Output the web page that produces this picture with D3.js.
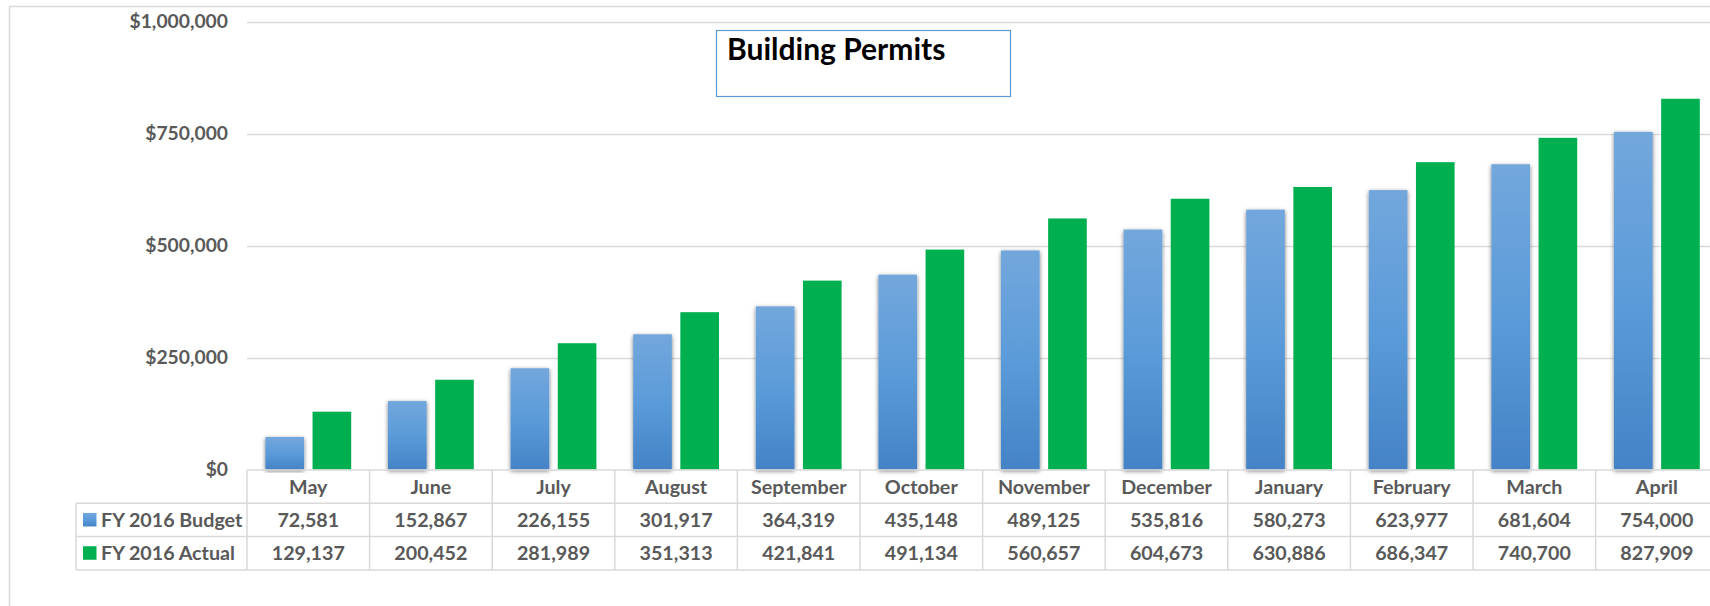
<!DOCTYPE html>
<html>
<head>
<meta charset="utf-8">
<script src="https://cdn.jsdelivr.net/npm/d3@7"></script>
<style>
  html, body { margin: 0; padding: 0; background: #fff; }
  svg { display: block; font-family: Lato, "Open Sans", sans-serif; }
</style>
</head>
<body>
<div id="chart"></div>
<script>
// Data
const months = ["May", "June", "July", "August", "September", "October",
    "November", "December", "January", "February", "March", "April"];
const seriesNames = ["FY 2016 Budget", "FY 2016 Actual"];
const budget = [72581, 152867, 226155, 301917, 364319, 435148,
    489125, 535816, 580273, 623977, 681604, 754000];
const actual = [129137, 200452, 281989, 351313, 421841, 491134,
    560657, 604673, 630886, 686347, 740700, 827909];
const yTicks = [0, 250000, 500000, 750000, 1000000];
const chartTitle = "Building Permits";

const W = 1710, H = 606;
const textColor = "#595959";
const gridColor = "#d9d9d9";
const green = "#00b050";

const svg = d3.select("#chart").append("svg")
    .attr("width", W)
    .attr("height", H);

const defs = svg.append("defs");

// Blue bar gradient (lighter top, darker bottom)
const grad = defs.append("linearGradient")
    .attr("id", "blueGrad")
    .attr("x1", 0).attr("y1", 0).attr("x2", 0).attr("y2", 1);
grad.append("stop").attr("offset", "0%").attr("stop-color", "#73a7dc");
grad.append("stop").attr("offset", "50%").attr("stop-color", "#5b9bd9");
grad.append("stop").attr("offset", "100%").attr("stop-color", "#4483c6");

// soft shadow on the blue bars
defs.append("filter")
    .attr("id", "barShadow")
    .attr("x", "-30%").attr("y", "-10%")
    .attr("width", "160%").attr("height", "120%")
    .append("feDropShadow")
    .attr("dx", 0).attr("dy", 1.5)
    .attr("stdDeviation", 2.2)
    .attr("flood-color", "#000")
    .attr("flood-opacity", 0.55);

// Outer chart frame (runs off the right and bottom edge)
svg.append("rect")
    .attr("x", 9.5).attr("y", 6.5)
    .attr("width", W + 20).attr("height", H + 20)
    .attr("fill", "none")
    .attr("stroke", gridColor)
    .attr("stroke-width", 1.5);

// Scales
const plotLeft = 247, colW = 122.6;
const x0 = d3.scaleBand()
    .domain(months)
    .range([plotLeft, plotLeft + colW * months.length])
    .padding(0);

const x1 = d3.scaleBand()
    .domain(seriesNames)
    .range([0, x0.bandwidth()])
    .paddingInner(0.18)
    .paddingOuter(0.39);

const y = d3.scaleLinear()
    .domain([0, 1000000])
    .range([469.5, 21.7]);

// Grid lines
svg.append("g")
    .attr("class", "grid")
    .selectAll("line")
    .data(yTicks.filter(d => d > 0))
    .join("line")
    .attr("x1", plotLeft)
    .attr("x2", W + 10)
    .attr("y1", d => Math.round(y(d)) + 0.5)
    .attr("y2", d => Math.round(y(d)) + 0.5)
    .attr("stroke", gridColor)
    .attr("stroke-width", 1.5);

// Y axis labels
const yAxis = d3.axisLeft(y)
    .tickValues(yTicks)
    .tickSize(0)
    .tickPadding(0)
    .tickFormat(d => "$" + d3.format(",")(d));

const yG = svg.append("g")
    .attr("transform", "translate(228,0)")
    .call(yAxis);
yG.select(".domain").remove();
yG.selectAll("text")
    .attr("fill", textColor)
    .attr("font-size", "19.3px")
    .attr("font-weight", "bold")
    .attr("font-family", "Lato, sans-serif");

// Bars
const rows = months.map((m, i) => ({ month: m, values: [budget[i], actual[i]] }));

const groups = svg.append("g")
    .selectAll("g")
    .data(rows)
    .join("g")
    .attr("transform", d => `translate(${x0(d.month)},0)`);

groups.append("rect")
    .attr("x", x1(seriesNames[0]))
    .attr("width", x1.bandwidth())
    .attr("y", d => y(d.values[0]))
    .attr("height", d => y(0) - y(d.values[0]))
    .attr("fill", "url(#blueGrad)")
    .attr("filter", "url(#barShadow)");

groups.append("rect")
    .attr("x", x1(seriesNames[1]))
    .attr("width", x1.bandwidth())
    .attr("y", d => y(d.values[1]))
    .attr("height", d => y(0) - y(d.values[1]))
    .attr("fill", green);

// Data table under the chart
const rowTop = 470, rowH = 33.3;
const legendLeft = 76;
const tableRight = plotLeft + colW * months.length;
const table = svg.append("g").attr("class", "data-table");

// horizontal lines
table.append("line")
    .attr("x1", plotLeft).attr("x2", tableRight)
    .attr("y1", rowTop).attr("y2", rowTop);
[1, 2, 3].forEach(r => {
    table.append("line")
        .attr("x1", legendLeft).attr("x2", tableRight)
        .attr("y1", rowTop + r * rowH).attr("y2", rowTop + r * rowH);
});
// vertical lines
table.append("line")
    .attr("x1", legendLeft).attr("x2", legendLeft)
    .attr("y1", rowTop + rowH).attr("y2", rowTop + 3 * rowH);
months.forEach(m => {
    table.append("line")
        .attr("x1", x0(m)).attr("x2", x0(m))
        .attr("y1", rowTop).attr("y2", rowTop + 3 * rowH);
});
table.selectAll("line")
    .attr("stroke", gridColor)
    .attr("stroke-width", 1.5);

// month header
table.selectAll("text.month")
    .data(months)
    .join("text")
    .attr("class", "month")
    .attr("x", d => x0(d) + x0.bandwidth() / 2)
    .attr("y", rowTop + rowH / 2)
    .attr("dy", "0.35em")
    .attr("text-anchor", "middle")
    .text(d => d);

// value rows
[budget, actual].forEach((vals, r) => {
    table.selectAll(`text.val${r}`)
        .data(vals)
        .join("text")
        .attr("class", `val${r}`)
        .attr("x", (d, i) => x0(months[i]) + x0.bandwidth() / 2)
        .attr("y", rowTop + (r + 1.5) * rowH)
        .attr("dy", "0.35em")
        .attr("text-anchor", "middle")
        .text(d => d3.format(",")(d));

    // legend key + series name
    table.append("rect")
        .attr("x", 83)
        .attr("y", rowTop + (r + 1.5) * rowH - 7)
        .attr("width", 13.5)
        .attr("height", 13.5)
        .attr("fill", r === 0 ? "url(#blueGrad)" : green);

    table.append("text")
        .attr("class", "series-name")
        .attr("x", 101)
        .attr("y", rowTop + (r + 1.5) * rowH)
        .attr("dy", "0.35em")
        .text(seriesNames[r]);
});

table.selectAll("text")
    .attr("fill", textColor)
    .attr("font-size", "19.7px")
    .attr("font-weight", "bold");

// Title box
svg.append("rect")
    .attr("x", 716.5).attr("y", 30.5)
    .attr("width", 294).attr("height", 66)
    .attr("fill", "#fff")
    .attr("stroke", "#5b9bd5")
    .attr("stroke-width", 1.2);

svg.append("text")
    .attr("x", 727)
    .attr("y", 60)
    .attr("font-size", "30px")
    .attr("font-weight", "bold")
    .attr("fill", "#000")
    .text(chartTitle);
</script>
</body>
</html>
